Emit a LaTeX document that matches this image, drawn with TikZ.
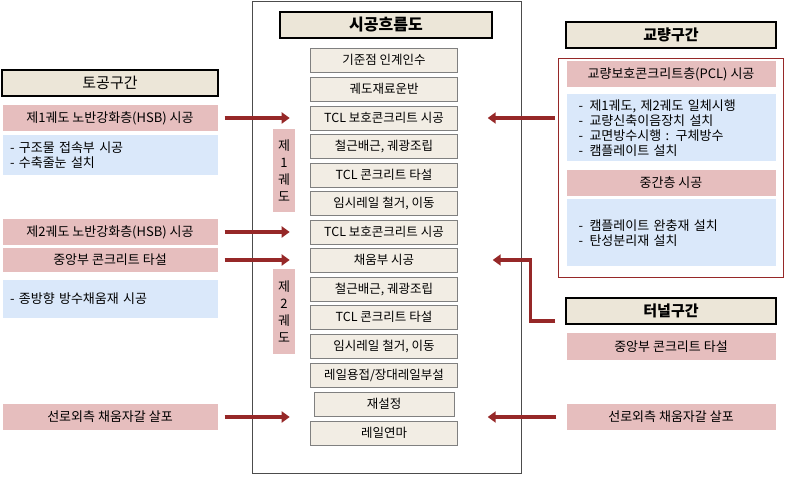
\documentclass[tikz,border=0pt]{standalone}
\usepackage{fontspec}
\setmainfont{Noto Sans CJK KR}
\usetikzlibrary{arrows.meta, positioning}
\definecolor{fl_tan}{RGB}{236, 230, 216}
\definecolor{fl_pink}{RGB}{230, 190, 190}
\definecolor{fl_blue}{RGB}{218, 232, 250}
\definecolor{fl_red}{RGB}{150, 40, 40}

\begin{document}
\begin{tikzpicture}[
        x=1pt, y=-1pt,
        head/.style={draw, line width=1.2pt, fill=fl_tan, minimum height=26pt,
                     font=\bfseries\fontsize{15}{17}\selectfont},
        stepbox/.style={draw=gray, fill=fl_tan!70, minimum width=147pt, minimum height=24pt,
                        inner sep=1pt, font=\fontsize{12.5}{14}\selectfont},
        pinkbox/.style={fill=fl_pink, minimum width=215pt, minimum height=26pt,
                        inner sep=1pt, font=\fontsize{13}{14}\selectfont},
        bluebox/.style={fill=fl_blue, minimum width=215pt, align=left,
                        font=\fontsize{13}{15}\selectfont, text width=200pt},
        track/.style={fill=fl_pink, minimum width=22pt, align=center,
                      font=\fontsize{13}{17}\selectfont},
        arr/.style={-{Triangle[width=11pt,length=8pt]}, fl_red, line width=3.5pt},
      ]
        \useasboundingbox (0,0) rectangle (785,478);
        % centre column
        \node[draw=black!70, minimum width=269pt, minimum height=472pt, anchor=north west]
          (frame) at (252,1) {};
        \node[head, minimum width=212pt, font=\bfseries\fontsize{16}{18}\selectfont] (title) at (386,25) {시공흐름도};
        \node[stepbox] (s1)  at (384,60)  {기준점 인계인수};
        \node[stepbox] (s2)  at (384,89)  {궤도재료운반};
        \node[stepbox] (s3)  at (384,118) {TCL 보호콘크리트 시공};
        \node[stepbox] (s4)  at (384,146) {철근배근, 궤광조립};
        \node[stepbox] (s5)  at (384,175) {TCL 콘크리트 타설};
        \node[stepbox] (s6)  at (384,203) {임시레일 철거, 이동};
        \node[stepbox] (s7)  at (384,232) {TCL 보호콘크리트 시공};
        \node[stepbox] (s8)  at (384,260) {채움부 시공};
        \node[stepbox] (s9)  at (384,289) {철근배근, 궤광조립};
        \node[stepbox] (s10) at (384,317) {TCL 콘크리트 타설};
        \node[stepbox] (s11) at (384,346) {임시레일 철거, 이동};
        \node[stepbox] (s12) at (384,375) {레일용접/장대레일부설};
        \node[stepbox, minimum width=140pt] (s13) at (384,404) {재설정};
        \node[stepbox] (s14) at (384,433) {레일연마};
        \node[track, minimum height=83pt] (tr1) at (284,171) {제\\1\\궤\\도};
        \node[track, minimum height=85pt] (tr2) at (284,312) {제\\2\\궤\\도};
        % earthwork
        \node[head, minimum width=216pt] (earth) at (110,83) {\mdseries 토공구간};
        \node[pinkbox] (e1) at (110,118) {제1궤도 노반강화층(HSB) 시공};
        \node[bluebox, minimum height=40pt] (e2) at (110,155)
          {- 구조물 접속부 시공\\- 수축줄눈 설치};
        \node[pinkbox] (e3) at (110,232) {제2궤도 노반강화층(HSB) 시공};
        \node[pinkbox, minimum height=24pt] (e4) at (110,260) {중앙부 콘크리트 타설};
        \node[bluebox, minimum height=38pt] (e5) at (110,299) {- 종방향 방수채움재 시공};
        \node[pinkbox] (e6) at (110,417) {선로외측 채움자갈 살포};
        % bridge
        \node[head, minimum width=210pt] (bridge) at (671,35) {교량구간};
        \node[draw=fl_red, line width=1.2pt, minimum width=225pt, minimum height=219pt,
              anchor=north west] (bframe) at (558,58) {};
        \node[pinkbox, minimum width=209pt] (b1) at (671,74) {교량보호콘크리트층(PCL) 시공};
        \node[bluebox, minimum width=209pt, minimum height=67pt, text width=185pt] (b2) at (671,128)
          {-\enspace 제1궤도, 제2궤도 일체시행\\-\enspace 교량신축이음장치 설치\\-\enspace 교면방수시행 : 구체방수\\-\enspace 캠플레이트 설치};
        \node[pinkbox, minimum width=209pt] (b3) at (671,183) {중간층 시공};
        \node[bluebox, minimum width=209pt, minimum height=67pt, text width=185pt] (b4) at (671,233)
          {-\enspace 캠플레이트 완충재 설치\\-\enspace 탄성분리재 설치};
        % tunnel
        \node[head, minimum width=210pt] (tunnel) at (671,311) {터널구간};
        \node[pinkbox, minimum width=209pt, minimum height=27pt] (t1) at (671,347) {중앙부 콘크리트 타설};
        \node[pinkbox, minimum width=209pt] (t2) at (671,417) {선로외측 채움자갈 살포};
        % arrows
        \draw[arr] (e1.east) ++(7,0) -- ++(65,0);
        \draw[arr] (e3.east) ++(7,0) -- ++(65,0);
        \draw[arr] (e4.east) ++(7,0) -- ++(65,0);
        \draw[arr] (e6.east) ++(7,0) -- ++(65,0);
        \draw[arr] (bframe.west |- s3) ++(-3,0) -- ([xshift=30pt]s3.east);
        \draw[arr] (tunnel.west) ++(-10,10) -- ++(-25,0) |- ([xshift=35pt]s8.east);
        \draw[arr] (t2.west) ++(-10,0) -- ([xshift=30pt]s14.east |- t2);
      \end{tikzpicture}
\end{document}
